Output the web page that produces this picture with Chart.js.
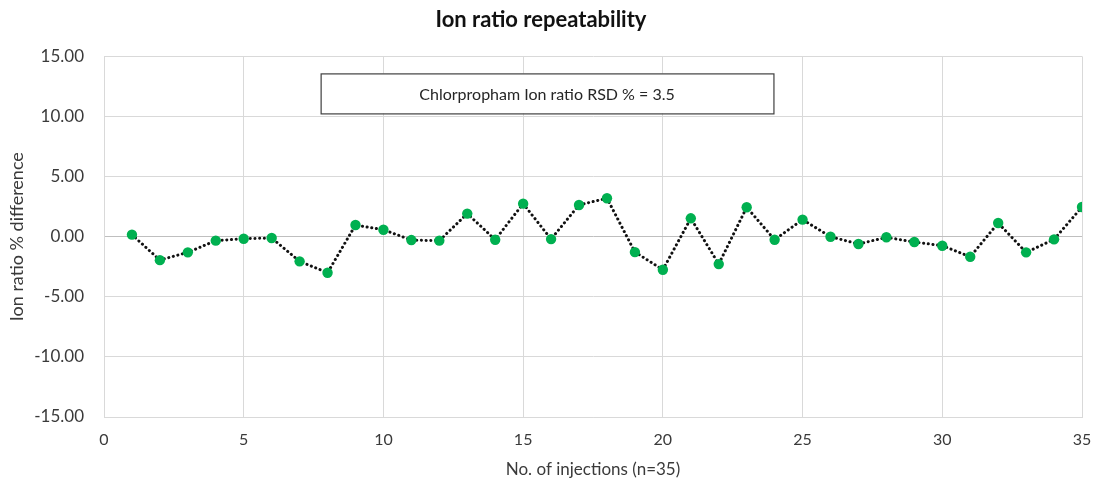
<!DOCTYPE html>
<html>
<head>
<meta charset="utf-8">
<script src="https://cdn.jsdelivr.net/npm/chart.js@4"></script>
<style>
  html, body { margin: 0; padding: 0; background: #fff; }
  #wrap { width: 1099px; height: 484px; }
</style>
</head>
<body>
<div id="wrap"><canvas id="chart" width="1099" height="484"></canvas></div>
<script>
// Ion ratio repeatability - % difference per injection

const injections = [1, 2, 3, 4, 5, 6, 7, 8, 9, 10, 11, 12, 13, 14, 15, 16, 17, 18,
    19, 20, 21, 22, 23, 24, 25, 26, 27, 28, 29, 30, 31, 32, 33, 34, 35];
const ionRatioDiff = [0.17, -1.95, -1.30, -0.33, -0.17, -0.11, -2.05, -3.00, 0.97, 0.58,
    -0.28, -0.33, 1.92, -0.25, 2.75, -0.20, 2.64, 3.20, -1.28, -2.75,
    1.53, -2.28, 2.45, -0.25, 1.42, 0.00, -0.61, -0.05, -0.44, -0.75,
    -1.67, 1.14, -1.30, -0.22, 2.47];
const xTicks = [0, 5, 10, 15, 20, 25, 30, 35];
const yTicks = [-15, -10, -5, 0, 5, 10, 15];
const noteText = 'Chlorpropham Ion ratio RSD % = 3.5';

const FONT = 'Lato, "Open Sans", sans-serif';
const GRID = '#d9d9d9';
const TEXT = '#3a3a3a';

// text box sitting inside the plot, like the Excel note
const notePlugin = {
    id: 'noteBox',
    afterDraw: function (chart) {
        const a = chart.chartArea;
        const w = a.right - a.left;
        const left = a.left + w * 0.2215;
        const right = a.left + w * 0.6845;
        const top = a.top + 17;
        const bottom = a.top + 57;
        const ctx = chart.ctx;
        ctx.save();
        ctx.fillStyle = '#ffffff';
        ctx.fillRect(left, top, right - left, bottom - top);
        ctx.strokeStyle = '#404040';
        ctx.lineWidth = 1.2;
        ctx.strokeRect(left + 0.5, top + 0.5, right - left, bottom - top);
        ctx.fillStyle = '#262626';
        ctx.font = '16px ' + FONT;
        ctx.textAlign = 'center';
        ctx.textBaseline = 'middle';
        ctx.fillText(noteText, (left + right) / 2, (top + bottom) / 2 + 1);
        ctx.restore();
    }
};

const points = injections.map(function (x, i) { return { x: x, y: ionRatioDiff[i] }; });

new Chart(document.getElementById('chart').getContext('2d'), {
    type: 'scatter',
    data: {
        datasets: [{
            data: points,
            showLine: true,
            borderColor: '#111111',
            borderWidth: 3,
            borderDash: [0.1, 4.6],
            borderCapStyle: 'round',
            tension: 0,
            pointRadius: 5.2,
            pointHoverRadius: 5.2,
            pointBackgroundColor: '#00b050',
            pointBorderColor: '#00b050',
            pointBorderWidth: 0,
        }],
    },
    options: {
        responsive: false,
        animation: false,
        layout: { padding: { left: 0, right: 17, top: 0, bottom: 4 } },
        plugins: {
            legend: { display: false },
            tooltip: { enabled: false },
            title: {
                display: true,
                text: 'Ion ratio repeatability',
                color: '#111111',
                font: { family: FONT, size: 22, weight: 'bold' },
                padding: { top: 7, bottom: 23 },
            },
        },
        scales: {
            x: {
                type: 'linear',
                min: 0,
                max: 35,
                afterBuildTicks: function (s) { s.ticks = xTicks.map(function (v) { return { value: v }; }); },
                grid: { color: GRID, drawTicks: false },
                border: { color: GRID },
                ticks: { color: TEXT, padding: 13, font: { family: FONT, size: 16 } },
                title: {
                    display: true,
                    text: 'No. of injections (n=35)',
                    color: TEXT,
                    font: { family: FONT, size: 17 },
                    padding: { top: 6, bottom: 0 },
                },
                afterFit: function (s) {
                    s.height = 63;
                    s.paddingLeft = 0;
                    s.paddingRight = 0;
                },
            },
            y: {
                min: -15,
                max: 15,
                afterBuildTicks: function (s) { s.ticks = yTicks.map(function (v) { return { value: v }; }); },
                grid: {
                    color: function (c) { return c.tick && c.tick.value === 0 ? '#bfbfbf' : GRID; },
                    drawTicks: false,
                },
                border: { color: GRID },
                ticks: {
                    color: TEXT,
                    padding: 20,
                    font: { family: FONT, size: 17 },
                    callback: function (v) { return Number(v).toFixed(2); },
                },
                title: {
                    display: true,
                    text: 'Ion ratio % difference',
                    color: TEXT,
                    font: { family: FONT, size: 18 },
                    padding: { top: 6, bottom: 6 },
                },
                afterFit: function (s) { s.width = 104; },
            },
        },
    },
    plugins: [notePlugin],
});
</script>
</body>
</html>
